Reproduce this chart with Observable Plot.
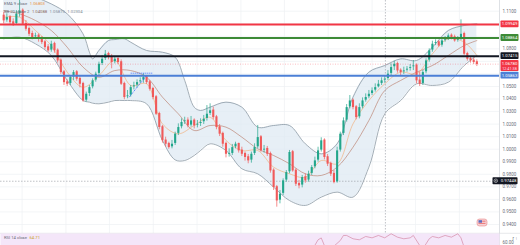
<!DOCTYPE html>
<html><head><meta charset="utf-8">
<script src="https://cdn.jsdelivr.net/npm/d3@7"></script>
<script src="https://cdn.jsdelivr.net/npm/@observablehq/plot@0.6"></script>
<style>
html,body{margin:0;padding:0;background:#fff;}
#wrap{position:relative;width:520px;height:245px;overflow:hidden;font-family:Roboto,"Liberation Sans",sans-serif;}
#wrap svg{position:absolute;left:0;}
</style></head><body><div id="wrap"></div>
<script>
// ---- candle data (EUR/USD) ----
const opens = [1.1065,1.1026,1.1052,1.1012,1.0999,1.1079,1.1105,1.0999,1.0959,1.0919,
1.0893,1.0906,1.0880,1.0853,1.0813,1.0787,1.0840,1.0787,1.0707,1.0614,
1.0534,1.0521,1.0574,1.0614,1.0561,1.0521,1.0388,1.0441,1.0494,1.0548,
1.0601,1.0680,1.0720,1.0760,1.0733,1.0694,1.0720,1.0694,1.0521,1.0415,
1.0428,1.0494,1.0508,1.0534,1.0548,1.0574,1.0534,1.0481,1.0415,1.0282,
1.0176,1.0070,1.0043,1.0016,1.0043,1.0123,1.0176,1.0216,1.0229,1.0189,
1.0229,1.0189,1.0202,1.0216,1.0242,1.0282,1.0309,1.0255,1.0176,1.0123,
1.0043,0.9963,0.9963,1.0016,1.0043,0.9990,0.9963,0.9937,0.9910,0.9963,
1.0016,1.0096,0.9990,1.0003,0.9963,0.9830,0.9698,0.9591,0.9645,0.9751,
0.9817,0.9977,0.9830,0.9724,0.9711,0.9777,0.9751,0.9804,0.9857,0.9910,
0.9990,1.0070,0.9937,0.9884,0.9804,0.9737,0.9990,1.0123,1.0229,1.0335,
1.0388,1.0335,1.0255,1.0335,1.0388,1.0415,1.0441,1.0468,1.0494,1.0521,
1.0548,1.0561,1.0601,1.0654,1.0680,1.0627,1.0614,1.0627,1.0641,1.0654,
1.0667,1.0548,1.0521,1.0614,1.0707,1.0787,1.0840,1.0853,1.0826,1.0866,
1.0880,1.0906,1.0893,1.0866,1.0880,1.0919,1.0760,1.0720,1.0707,1.0694];
const highs = [1.1092,1.1079,1.1065,1.1039,1.1105,1.1185,1.1119,1.1026,1.0973,1.0941,
1.0925,1.0919,1.0898,1.0866,1.0834,1.0861,1.0853,1.0800,1.0720,1.0627,
1.0553,1.0587,1.0627,1.0627,1.0579,1.0534,1.0455,1.0508,1.0561,1.0614,
1.0694,1.0747,1.0787,1.0773,1.0755,1.0739,1.0733,1.0712,1.0534,1.0468,
1.0508,1.0534,1.0553,1.0569,1.0601,1.0587,1.0548,1.0494,1.0428,1.0295,
1.0189,1.0096,1.0056,1.0070,1.0136,1.0202,1.0242,1.0255,1.0250,1.0261,
1.0242,1.0229,1.0242,1.0269,1.0348,1.0362,1.0335,1.0269,1.0197,1.0136,
1.0056,1.0003,1.0038,1.0056,1.0048,1.0016,0.9977,0.9958,0.9977,1.0043,
1.0189,1.0109,1.0030,1.0022,0.9977,0.9844,0.9711,0.9671,0.9764,0.9830,
0.9990,0.9990,0.9844,0.9751,0.9791,0.9804,0.9825,0.9870,0.9937,1.0016,
1.0091,1.0083,0.9958,0.9897,0.9830,1.0016,1.0136,1.0250,1.0356,1.0428,
1.0402,1.0348,1.0362,1.0409,1.0441,1.0468,1.0489,1.0521,1.0548,1.0569,
1.0587,1.0627,1.0680,1.0702,1.0694,1.0641,1.0654,1.0659,1.0675,1.0707,
1.0680,1.0614,1.0627,1.0720,1.0800,1.0861,1.0872,1.0866,1.0888,1.0898,
1.0919,1.0919,1.0909,1.0898,1.1031,1.0933,1.0773,1.0739,1.0728,1.0712];
const lows = [1.0999,1.1012,1.0994,1.0978,1.0986,1.1052,1.0986,1.0941,1.0898,1.0872,
1.0880,1.0853,1.0834,1.0792,1.0773,1.0773,1.0765,1.0686,1.0595,1.0508,
1.0500,1.0508,1.0548,1.0542,1.0489,1.0375,1.0375,1.0420,1.0481,1.0534,
1.0587,1.0667,1.0707,1.0712,1.0641,1.0680,1.0675,1.0508,1.0394,1.0402,
1.0415,1.0473,1.0489,1.0521,1.0526,1.0516,1.0463,1.0394,1.0269,1.0155,
1.0048,1.0016,1.0000,1.0003,1.0030,1.0109,1.0162,1.0197,1.0170,1.0176,
1.0162,1.0170,1.0181,1.0197,1.0224,1.0269,1.0234,1.0155,1.0101,1.0016,
0.9931,0.9937,0.9950,1.0003,0.9969,0.9942,0.9905,0.9884,0.9889,0.9950,
1.0003,0.9977,0.9969,0.9942,0.9809,0.9671,0.9538,0.9565,0.9631,0.9737,
0.9804,0.9817,0.9703,0.9684,0.9692,0.9729,0.9737,0.9791,0.9844,0.9897,
0.9977,0.9915,0.9862,0.9783,0.9724,0.9729,0.9977,1.0109,1.0216,1.0322,
1.0314,1.0234,1.0242,1.0322,1.0375,1.0402,1.0428,1.0455,1.0489,1.0508,
1.0526,1.0548,1.0587,1.0627,1.0606,1.0587,1.0595,1.0614,1.0622,1.0627,
1.0521,1.0500,1.0508,1.0601,1.0694,1.0773,1.0826,1.0813,1.0813,1.0853,
1.0866,1.0872,1.0853,1.0853,1.0866,1.0747,1.0702,1.0686,1.0675,1.0659];
const closes = [1.1026,1.1052,1.1012,1.0999,1.1079,1.1105,1.0999,1.0959,1.0919,1.0893,
1.0906,1.0880,1.0853,1.0813,1.0787,1.0840,1.0787,1.0707,1.0614,1.0534,
1.0521,1.0574,1.0614,1.0561,1.0521,1.0388,1.0441,1.0494,1.0548,1.0601,
1.0680,1.0720,1.0760,1.0733,1.0694,1.0720,1.0694,1.0521,1.0415,1.0428,
1.0494,1.0508,1.0534,1.0548,1.0574,1.0534,1.0481,1.0415,1.0282,1.0176,
1.0070,1.0043,1.0016,1.0043,1.0123,1.0176,1.0216,1.0229,1.0189,1.0229,
1.0189,1.0202,1.0216,1.0242,1.0282,1.0309,1.0255,1.0176,1.0123,1.0043,
0.9963,0.9963,1.0016,1.0043,0.9990,0.9963,0.9937,0.9910,0.9963,1.0016,
1.0096,0.9990,1.0003,0.9963,0.9830,0.9698,0.9591,0.9645,0.9751,0.9817,
0.9977,0.9830,0.9724,0.9711,0.9777,0.9751,0.9804,0.9857,0.9910,0.9990,
1.0070,0.9937,0.9884,0.9804,0.9737,0.9990,1.0123,1.0229,1.0335,1.0388,
1.0335,1.0255,1.0335,1.0388,1.0415,1.0441,1.0468,1.0494,1.0521,1.0548,
1.0561,1.0601,1.0654,1.0680,1.0627,1.0614,1.0627,1.0641,1.0654,1.0667,
1.0548,1.0521,1.0614,1.0707,1.0787,1.0840,1.0853,1.0826,1.0866,1.0880,
1.0906,1.0893,1.0866,1.0880,1.0919,1.0760,1.0720,1.0707,1.0694,1.0678];

// ---- Bollinger bands (20, 2) ----
const bandIdx = [0,5,10,15,20,25,27,28,30,33,35,38,40,45,50,54,57,60,62,65,70,75,80,85,90,95,100,105,110,115,120,125,130,135,140,145,149];
const bbUpper = [1.1344,1.1265,1.1212,1.1158,1.1079,1.0919,1.0773,1.0720,1.0787,1.0866,1.0874,1.0880,1.0853,1.0787,1.0773,1.0733,1.0548,1.0335,1.0309,1.0335,1.0375,1.0335,1.0176,1.0189,1.0189,1.0043,0.9963,1.0043,1.0415,1.0614,1.0667,1.0720,1.0707,1.0813,1.0946,1.0986,1.0999];
const bbLower = [1.0880,1.0893,1.0840,1.0747,1.0548,1.0388,1.0375,1.0367,1.0362,1.0375,1.0388,1.0388,1.0388,1.0362,1.0070,0.9915,0.9910,0.9950,0.9990,1.0043,0.9990,0.9844,0.9804,0.9698,0.9591,0.9552,0.9618,0.9658,0.9618,0.9857,1.0282,1.0388,1.0521,1.0508,1.0534,1.0667,1.0747];
const lineIdx = [0,5,10,15,20,25,30,35,40,45,50,55,60,65,70,75,80,85,90,95,100,105,110,115,120,125,130,135,140,145,149];
const bbBasis = [1.1105,1.1079,1.1026,1.0946,1.0813,1.0654,1.0574,1.0627,1.0627,1.0574,1.0415,1.0282,1.0149,1.0189,1.0176,1.0096,1.0003,0.9950,0.9884,0.9804,0.9791,0.9857,1.0016,1.0229,1.0468,1.0548,1.0614,1.0667,1.0747,1.0826,1.0866];
const ema9 = [1.1052,1.1052,1.0946,1.0826,1.0614,1.0494,1.0587,1.0707,1.0508,1.0521,1.0202,1.0123,1.0189,1.0255,1.0070,0.9990,0.9990,0.9857,0.9804,0.9777,0.9910,0.9884,1.0202,1.0388,1.0521,1.0614,1.0601,1.0760,1.0880,1.0853,1.0747];

// ---- RSI 14 (only the top of the pane is visible) ----
const rsiIdx = [97,99,100,101,103,106,107,108,110,112,114,116,118,120,122,124,126,128,129,131,132,134,135,137,139,141,143,144,145,146,149];
const rsiVal = [50,62.8,65,56,52,62,67.9,67.9,64,62.8,66.7,65.1,67.9,65.1,69.9,65.9,64,65.1,67.9,56.1,52.2,64,66.7,65.1,67.9,65.9,69.9,65.1,54.1,50,48];

// ---- horizontal levels and labels ----
const levelValues = [1.09949, 1.08864, 1.07415, 1.05863];
const levelColors = ["#f23645", "#3d8b37", "#131722", "#4b7fd6"];
const priceTicks = [1.11,1.08,1.05,1.04,1.03,1.02,1.01,1.00,0.99,0.98,0.97,0.96,0.95,0.94];
const gridPrices = [1.11,1.10,1.09,1.08,1.07,1.06,1.05,1.04,1.03,1.02,1.01,1.00,0.99,0.98,0.97,0.96,0.95,0.94];
const timeGrid = [5.8,19.6,33.3,47.1,60.9,74.7,88.4,102.2,116,129.7,143.5];
const lastPrice = 1.06780;
const crossIdx = 120.2, crossPrice = 0.97448;
const drawX1 = [40, 39.5], drawX2 = [47, 45], drawY1 = [1.0606, 1.0415], drawY2 = [1.0606, 1.0587];
const legendEma = [["EMA 9 close", "#6a6d78"], ["1.06803", "#e8913f"]];
const legendBB = [["BB 20 close 2", "#6a6d78"], ["1.04088", "#8a6a5a"], ["1.05875", "#7f8c96"], ["1.02304", "#7f8c96"]];
const legendRsi = [["RSI 14 close", "#6a6d78"], ["64.71", "#c9a227"]];

const up = "#22a68b", dn = "#f05a5a";
const candles = closes.map((c, i) => ({i, o: opens[i], h: highs[i], l: lows[i], c}));
const band = bandIdx.map((x, k) => ({x, hi: bbUpper[k], lo: bbLower[k]}));
const lines = lineIdx.map((x, k) => ({x, mid: bbBasis[k], ema: ema9[k]}));
const levels = levelValues.map((v, k) => ({v, c: levelColors[k]}));
const draws = drawX1.map((x, k) => ({x1: x, x2: drawX2[k], y1: drawY1[k], y2: drawY2[k]}));
const rsi = rsiIdx.map((x, k) => ({x, r: rsiVal[k]}));

const xs = {domain: [-1, 155.5], range: [0, 497], axis: null};
const main = Plot.plot({
  width: 520, height: 245, marginTop: 0, marginRight: 21, marginBottom: 12, marginLeft: 0,
  x: xs,
  y: {domain: [0.94, 1.11], range: [224, 10.7], axis: null},
  style: {background: "transparent", fontFamily: "Roboto, 'Liberation Sans', sans-serif"},
  marks: [
    Plot.gridY(gridPrices, {stroke: "#eef0f4", strokeOpacity: 1, strokeWidth: 0.7}),
    Plot.gridX(timeGrid, {stroke: "#eef0f4", strokeOpacity: 1, strokeWidth: 0.7}),
    Plot.areaY(band, {x: "x", y1: "lo", y2: "hi", fill: "#dfe9f3", fillOpacity: 0.75, curve: "catmull-rom", clip: true}),
    Plot.line(band, {x: "x", y: "hi", stroke: "#8b99a4", strokeWidth: 0.8, curve: "catmull-rom", clip: true}),
    Plot.line(band, {x: "x", y: "lo", stroke: "#8b99a4", strokeWidth: 0.8, curve: "catmull-rom", clip: true}),
    Plot.line(lines, {x: "x", y: "mid", stroke: "#b5745f", strokeWidth: 0.6, curve: "catmull-rom", clip: true}),
    Plot.line(lines, {x: "x", y: "ema", stroke: "#f3a66b", strokeWidth: 0.6, curve: "catmull-rom", clip: true}),
    Plot.ruleX([crossIdx], {stroke: "#9598a1", strokeWidth: 0.6, strokeDasharray: "1.5,1.5"}),
    Plot.ruleY([crossPrice], {stroke: "#9598a1", strokeWidth: 0.6, strokeDasharray: "1.5,1.5"}),
    Plot.ruleX(candles, {x: "i", y1: "l", y2: "h", stroke: d => d.c >= d.o ? up : dn, strokeWidth: 0.7}),
    Plot.ruleX(candles, {x: "i", y1: "o", y2: "c", stroke: d => d.c >= d.o ? up : dn, strokeWidth: 2.1, insetTop: -0.4, insetBottom: -0.4}),
    Plot.link(draws, {x1: "x1", y1: "y1", x2: "x2", y2: "y2", stroke: "#2962ff", strokeWidth: 0.9, strokeDasharray: "1,1"}),
    Plot.ruleY([lastPrice], {stroke: "#f23645", strokeOpacity: 0.55, strokeWidth: 0.6, strokeDasharray: "1,1.5"}),
    Plot.ruleY(levels, {y: "v", stroke: "c", strokeWidth: 2}),
    Plot.axisY(priceTicks, {anchor: "right", tickSize: 0, tickPadding: 3, tickFormat: d => d.toFixed(4), fontSize: 4.5, color: "#6a6d78"})
  ]
});
main.style.top = "0px";
document.getElementById("wrap").appendChild(main);

const rsiPlot = Plot.plot({
  width: 520, height: 12, marginTop: 0, marginRight: 21, marginBottom: 0, marginLeft: 0,
  x: xs,
  y: {domain: [56, 70.2], range: [12.1, 0], axis: null},
  style: {background: "transparent", fontFamily: "Roboto, 'Liberation Sans', sans-serif"},
  marks: [
    Plot.frame({fill: "#f4e6f9", stroke: null}),
    Plot.line(rsi, {x: "x", y: "r", stroke: "#d58aa6", strokeWidth: 0.7, clip: true}),
    Plot.axisY([60], {anchor: "right", tickSize: 0, tickPadding: 3, tickFormat: d => d.toFixed(2), fontSize: 4.5, color: "#6a6d78"})
  ]
});
rsiPlot.style.top = "233px";
document.getElementById("wrap").appendChild(rsiPlot);

// ---- chrome: right scale border, pane separator, tags, legend ----
const y = main.scale("y");
const svg = d3.select(main);
svg.append("line").attr("x1", 499.5).attr("x2", 499.5).attr("y1", 0).attr("y2", 245).attr("stroke", "#d6d9de").attr("stroke-width", 0.8);
svg.append("line").attr("x1", 0).attr("x2", 520).attr("y1", 233.3).attr("y2", 233.3).attr("stroke", "#d6d9de").attr("stroke-width", 0.6);

const tags = levels.map(d => ({v: d.v, c: d.c, t: d.v.toFixed(5)}));
for (const d of tags) {
  const yy = y.apply(d.v);
  svg.append("rect").attr("x", 500.5).attr("y", yy - 3.4).attr("width", 18).attr("height", 6.8).attr("rx", 0.8).attr("fill", d.c);
  svg.append("text").attr("x", 509.5).attr("y", yy).attr("dy", "0.35em").attr("text-anchor", "middle")
    .attr("font-size", 4.3).attr("fill", "#fff").text(d.t);
}
{
  const yy = y.apply(lastPrice);
  svg.append("rect").attr("x", 500.5).attr("y", yy - 3.6).attr("width", 18).attr("height", 11).attr("rx", 0.8).attr("fill", "#f23645");
  svg.append("text").attr("x", 509.5).attr("y", yy).attr("dy", "0.35em").attr("text-anchor", "middle").attr("font-size", 4.3).attr("fill", "#fff").text(lastPrice.toFixed(5));
  svg.append("text").attr("x", 509.5).attr("y", yy + 5).attr("dy", "0.35em").attr("text-anchor", "middle").attr("font-size", 3.8).attr("fill", "#fde").text("12:41:38");
}
{
  const yy = y.apply(crossPrice);
  svg.append("rect").attr("x", 492.5).attr("y", yy - 3.5).attr("width", 25).attr("height", 7).attr("rx", 0.8).attr("fill", "#131722");
  svg.append("circle").attr("cx", 495.8).attr("cy", yy).attr("r", 1.8).attr("fill", "none").attr("stroke", "#fff").attr("stroke-width", 0.5);
  svg.append("path").attr("d", `M494.9,${yy}H496.7M495.8,${yy - 0.9}V${yy + 0.9}`).attr("stroke", "#fff").attr("stroke-width", 0.4);
  svg.append("text").attr("x", 508.5).attr("y", yy).attr("dy", "0.35em").attr("text-anchor", "middle").attr("font-size", 4.3).attr("fill", "#fff").text(crossPrice.toFixed(5));
}
// flag badge
{
  const g = svg.append("g").attr("transform", "translate(477,219)");
  g.append("rect").attr("width", 10).attr("height", 7).attr("rx", 2.5).attr("fill", "#f6d2d6").attr("stroke", "#e57373").attr("stroke-width", 0.5);
  g.append("rect").attr("x", 1.5).attr("y", 1.2).attr("width", 3.5).attr("height", 2.5).attr("fill", "#5c6bc0");
  g.append("line").attr("x1", 5.2).attr("x2", 8.5).attr("y1", 2.2).attr("y2", 2.2).attr("stroke", "#e53935").attr("stroke-width", 0.6);
  g.append("line").attr("x1", 1.5).attr("x2", 8.5).attr("y1", 4.4).attr("y2", 4.4).attr("stroke", "#e53935").attr("stroke-width", 0.6);
}
// legends: separate, centre-anchored text elements laid out by measured width
function legendLine(sel, x0, yy, parts) {
  let x = x0;
  for (const [t, c] of parts) {
    const el = sel.append("text").attr("y", yy).attr("font-size", 4.2).attr("fill", c).attr("text-anchor", "middle").text(t);
    const w = el.node().getComputedTextLength();
    el.attr("x", x + w / 2);
    x += w + 2.5;
  }
}
legendLine(svg, 4, 5.2, legendEma);
legendLine(svg, 4, 12.8, legendBB);
legendLine(d3.select(rsiPlot), 4, 5.6, legendRsi);
</script>
</body></html>
